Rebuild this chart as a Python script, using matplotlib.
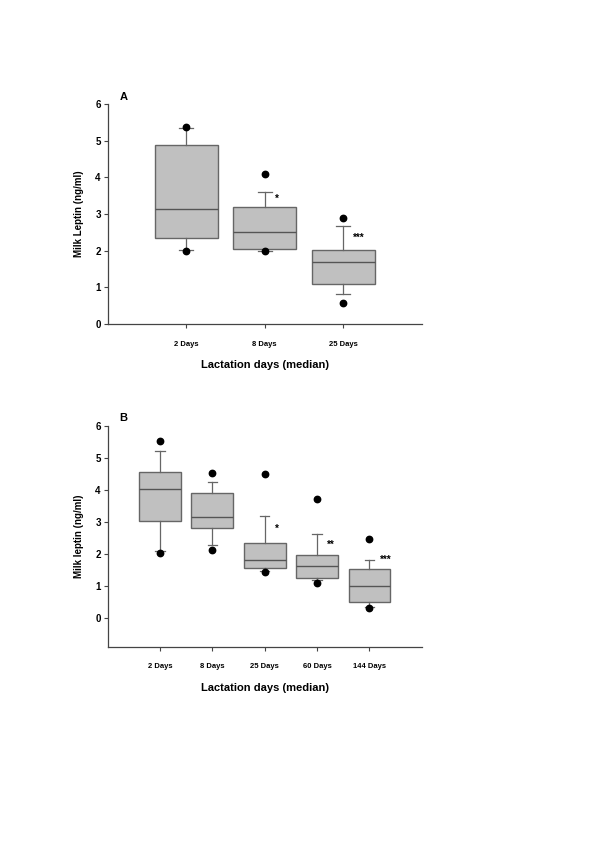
import matplotlib
matplotlib.use("Agg")
import matplotlib.pyplot as plt

plt.rcParams['font.family'] = ['Liberation Sans', 'DejaVu Sans']
plt.rcParams['font.weight'] = 'bold'

# panel A
days_a = ['2 Days', '8 Days', '25 Days']
q1_a = [2.35, 2.05, 1.08]
med_a = [3.14, 2.50, 1.68]
q3_a = [4.88, 3.20, 2.01]
lo_a = [2.01, 2.00, 0.81]
hi_a = [5.35, 3.61, 2.67]
out_lo_a = [2.00, 2.00, 0.56]
out_hi_a = [5.38, 4.08, 2.89]
stars_a = ['', '*', '***']
star_y_a = [0, 3.42, 2.34]

# panel B
days_b = ['2 Days', '8 Days', '25 Days', '60 Days', '144 Days']
q1_b = [3.02, 2.79, 1.57, 1.25, 0.51]
med_b = [4.01, 3.14, 1.82, 1.61, 0.98]
q3_b = [4.56, 3.89, 2.33, 1.95, 1.52]
lo_b = [2.09, 2.29, 1.46, 1.18, 0.34]
hi_b = [5.21, 4.23, 3.19, 2.62, 1.80]
out_lo_b = [2.01, 2.12, 1.42, 1.08, 0.30]
out_hi_b = [5.53, 4.51, 4.48, 3.70, 2.47]
stars_b = ['', '', '*', '**', '***']
star_y_b = [0, 0, 2.78, 2.28, 1.80]

fig = plt.figure(figsize=(6, 8.5), dpi=100)


def panel(rect, days, q1, med, q3, lo, hi, olo, ohi, stars, star_y, ylab, letter, ymin):
    ax = fig.add_axes(rect)
    stats = []
    for i in range(len(days)):
        stats.append({'q1': q1[i], 'med': med[i], 'q3': q3[i],
                      'whislo': lo[i], 'whishi': hi[i],
                      'fliers': [olo[i], ohi[i]]})
    pos = list(range(1, len(days) + 1))
    ax.bxp(stats, positions=pos, widths=0.8, patch_artist=True,
           boxprops=dict(facecolor='#c0c0c0', edgecolor='#666666', linewidth=1),
           medianprops=dict(color='#555555', linewidth=1),
           whiskerprops=dict(color='#666666', linewidth=0.9),
           capprops=dict(color='#666666', linewidth=0.9),
           capwidths=0.18,
           flierprops=dict(marker='o', markerfacecolor='black',
                           markeredgecolor='black', markersize=4.6))
    for i, s in enumerate(stars):
        if s:
            ax.annotate(s, (pos[i], star_y[i]), xytext=(10, 0),
                        textcoords='offset pixels', fontsize=7,
                        ha='left', va='center')
    ax.set_xlim(0, len(days) + 1)
    ax.set_ylim(ymin, 6)
    ax.set_yticks(range(0, 7))
    ax.set_xticks(pos)
    ax.set_xticklabels(days, fontsize=5.5, fontweight='bold')
    ax.tick_params(axis='y', labelsize=7, length=3, pad=2, color='#444444')
    ax.tick_params(axis='x', length=3, pad=9, color='#444444')
    for lab in ax.get_yticklabels():
        lab.set_fontweight('bold')
    for sp in ['top', 'right']:
        ax.spines[sp].set_visible(False)
    for sp in ['left', 'bottom']:
        ax.spines[sp].set_color('#444444')
        ax.spines[sp].set_linewidth(0.9)
    ax.set_ylabel(ylab, fontsize=7, fontweight='bold', labelpad=8)
    ax.set_xlabel('Lactation days (median)', fontsize=8, fontweight='bold', labelpad=9)
    ax.text(0.05, 1.01, letter, transform=ax.transAxes, fontsize=8,
            fontweight='bold', ha='center', va='bottom')
    return ax


panel([0.1795, 0.6188, 0.5235, 0.2588], days_a, q1_a, med_a, q3_a, lo_a, hi_a,
      out_lo_a, out_hi_a, stars_a, star_y_a, 'Milk Leptin (ng/ml)', 'A', 0)
panel([0.1795, 0.2392, 0.5235, 0.2600], days_b, q1_b, med_b, q3_b, lo_b, hi_b,
      out_lo_b, out_hi_b, stars_b, star_y_b, 'Milk leptin (ng/ml)', 'B', -0.9)

fig.savefig('out.png', dpi=100)
